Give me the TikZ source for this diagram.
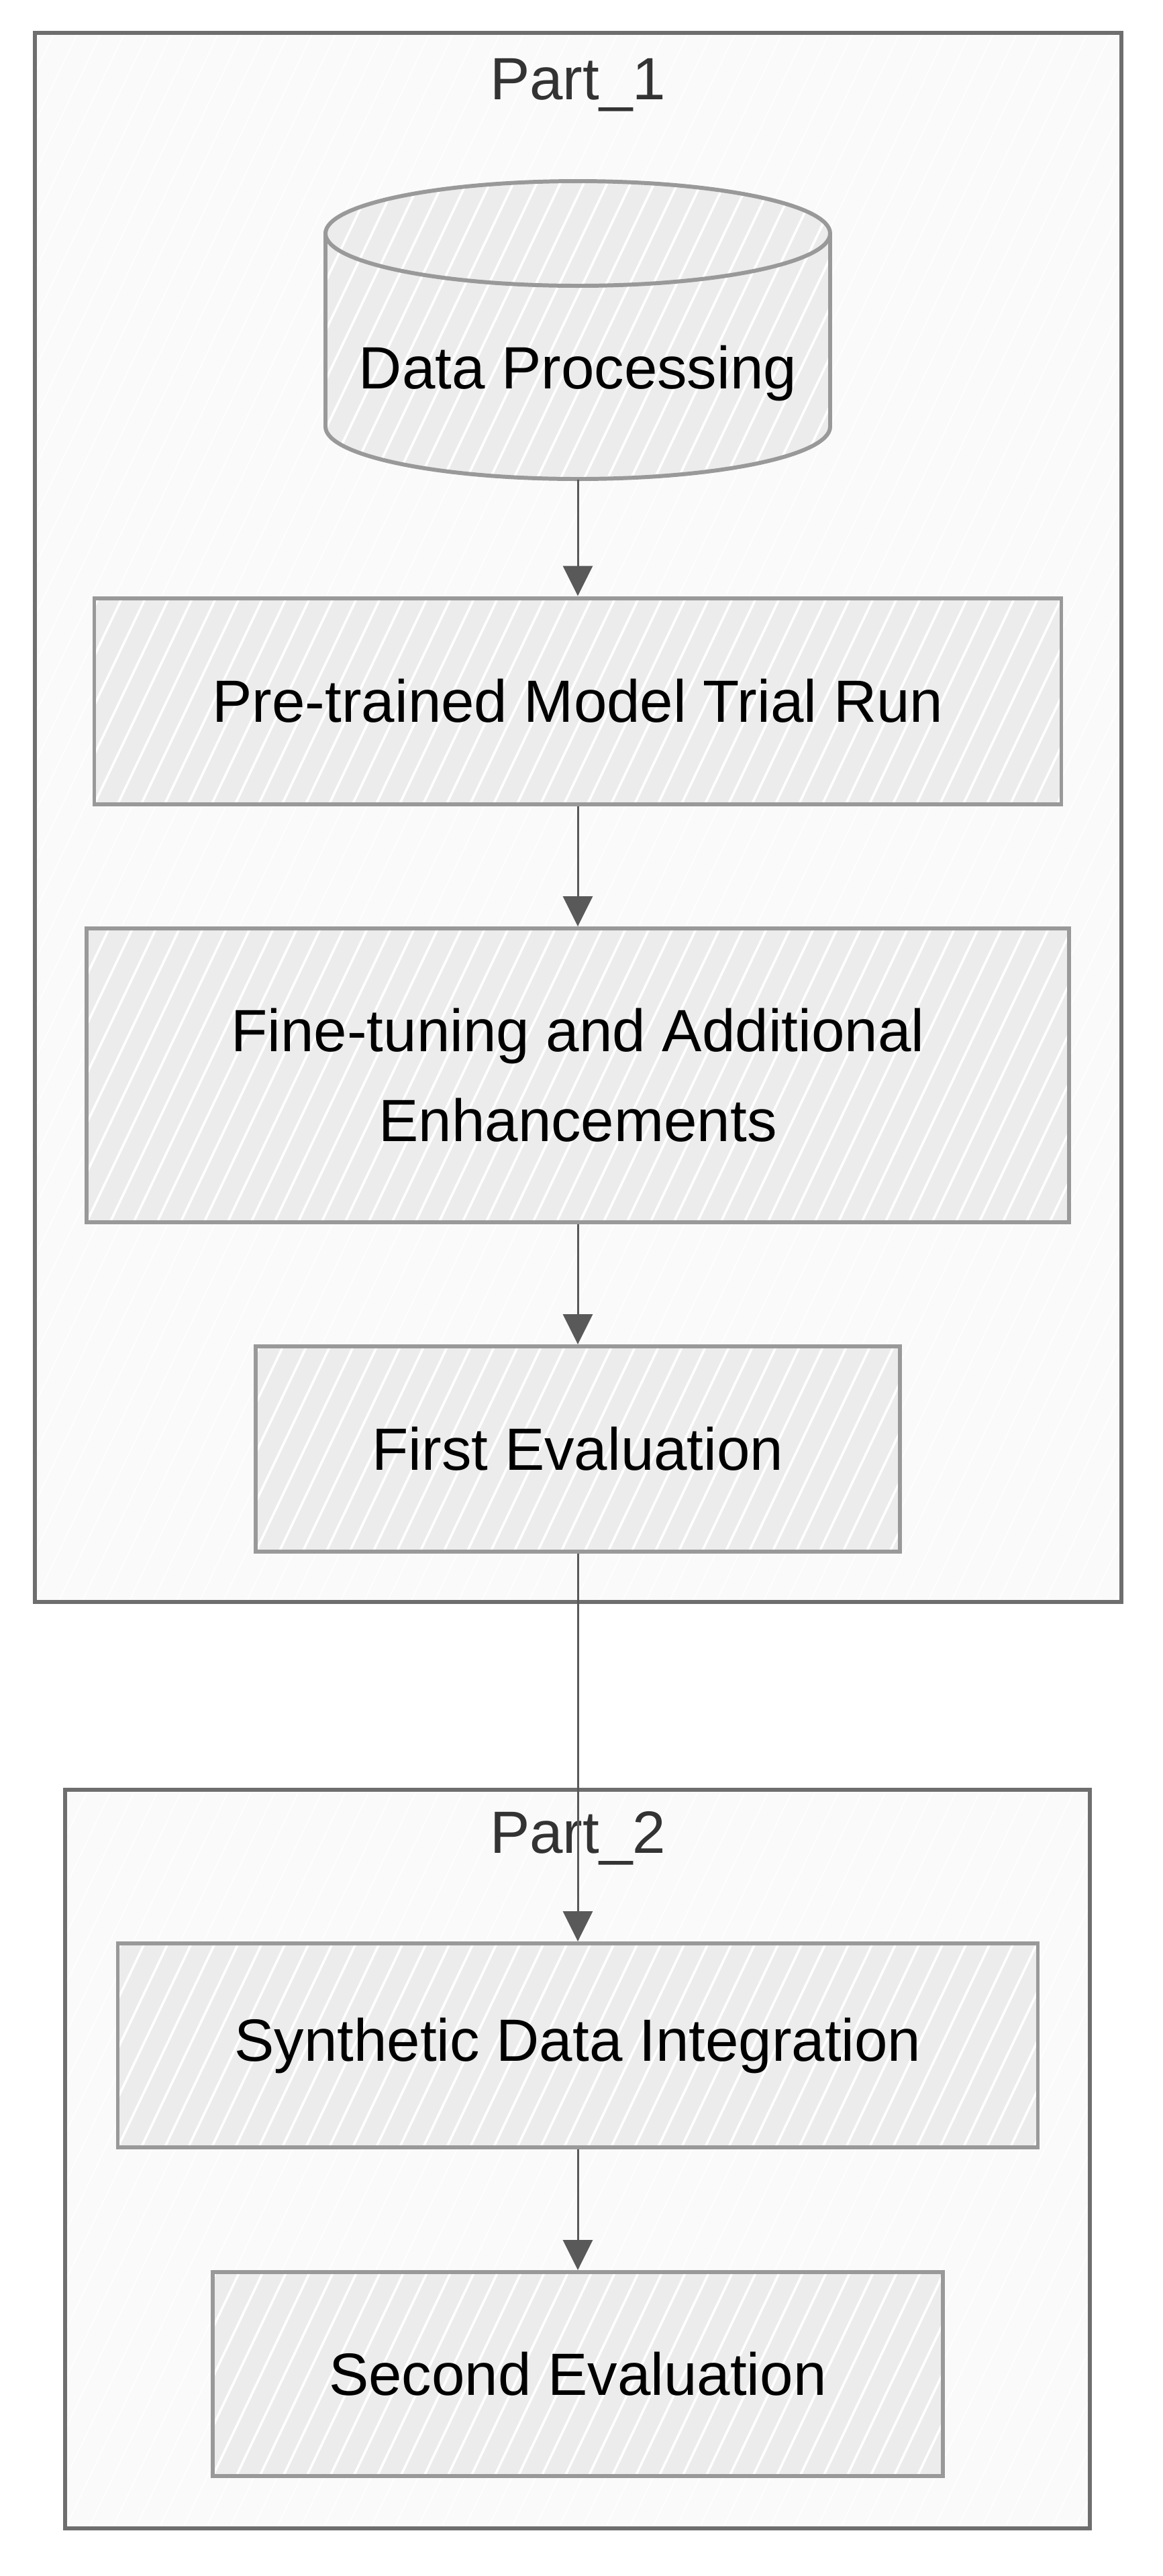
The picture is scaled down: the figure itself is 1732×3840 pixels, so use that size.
\documentclass[tikz,border=0pt]{standalone}
\usepackage{fontspec}
\setmainfont{Liberation Sans}
\usetikzlibrary{positioning,arrows.meta}
\definecolor{clusterline}{HTML}{6E6E6E}
\definecolor{clusterfill}{HTML}{FAFAFA}
\definecolor{boxline}{HTML}{999999}
\definecolor{boxfill}{HTML}{ECECEC}
\definecolor{arrowgrey}{HTML}{595959}
\definecolor{labelgrey}{HTML}{333333}
\newcommand\diagfont{\fontsize{25.3}{38.1}\selectfont}
\tikzset{
  hatch/.style={path picture={
    \foreach \k in {-80,...,60}
      \draw[white,line width=#1] ([xshift=\k*3.5mm]path picture bounding box.south west) -- ++(200mm,420mm);}},
  cluster/.style={draw=clusterline, fill=clusterfill, line width=1.5pt, hatch=0.4pt},
  stepbox/.style={rectangle, draw=boxline, fill=boxfill, line width=1.7pt, hatch=1pt, inner sep=0pt, align=center, font=\diagfont},
  dbfill/.style={draw=boxline, fill=boxfill, line width=1.7pt, hatch=1pt},
  partlabel/.style={anchor=base, text=labelgrey, font=\diagfont},
  flow/.style={-{Triangle[length=4.5mm,width=4.4mm]}, draw=arrowgrey, line width=0.85pt},
}
\begin{document}
\begin{tikzpicture}[x=0.1mm,y=-0.1mm]
  \useasboundingbox (0,0) rectangle (1732,3840);
  \fill[white] (0,0) rectangle (1732,3840);
  % Part 1
  \draw[cluster] (52,49) rectangle (1671,2388);
  \node[partlabel] (part1) at (861,148) {Part\_1};
  % database cylinder
  \path[dbfill] (485,348) -- (485,636) arc[start angle=180, end angle=360, x radius=37.6mm, y radius=7.8mm]
    -- (1237,348) arc[start angle=0, end angle=180, x radius=37.6mm, y radius=7.8mm] -- cycle;
  \draw[draw=boxline, line width=1.7pt] (485,348) arc[start angle=180, end angle=360, x radius=37.6mm, y radius=7.8mm];
  \node[font=\diagfont, inner sep=0pt, minimum width=75.2mm, minimum height=44.4mm, text height=17.4mm, text depth=0pt] (dp) at (861,492) {Data Processing};
  \node[stepbox, minimum width=144.1mm, minimum height=30.7mm] (pre) at (861,1045) {Pre-trained Model Trial Run};
  \node[stepbox, minimum width=146.4mm, minimum height=43.8mm] (fine) at (861,1603) {Fine-tuning and Additional\\Enhancements};
  \node[stepbox, minimum width=96mm, minimum height=30.6mm] (first) at (861,2160) {First Evaluation};
  % Part 2
  \draw[cluster] (97,2668) rectangle (1624,3769);
  \node[partlabel] (part2) at (861,2762) {Part\_2};
  \node[stepbox, minimum width=137.1mm, minimum height=30.4mm] (synth) at (861,3049) {Synthetic Data Integration};
  \node[stepbox, minimum width=108.8mm, minimum height=30.4mm] (second) at (861,3539) {Second Evaluation};
  % arrows
  \draw[flow] (dp) -- (pre);
  \draw[flow] (pre) -- (fine);
  \draw[flow] (fine) -- (first);
  \draw[flow] (first) -- (synth);
  \draw[flow] (synth) -- (second);
\end{tikzpicture}
\end{document}
